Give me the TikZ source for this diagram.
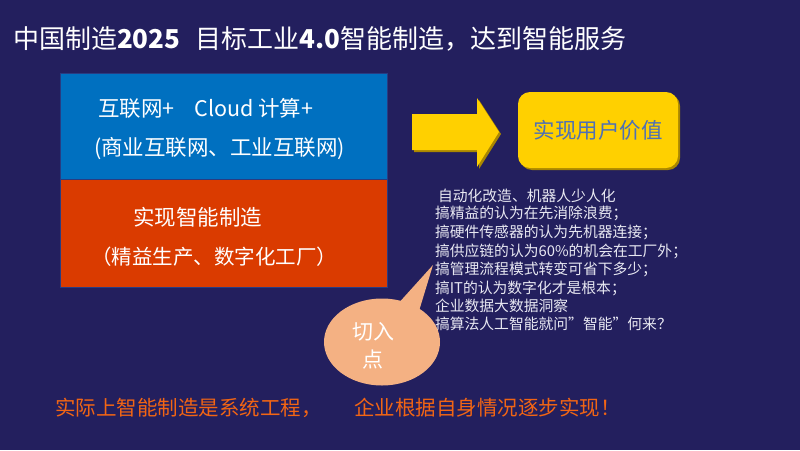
\documentclass[tikz,border=0pt]{standalone}
\usepackage{fontspec}
\setmainfont{Noto Sans CJK SC}
\usetikzlibrary{shapes.geometric}
\definecolor{bgc}{RGB}{35,31,94}
\definecolor{boxblue}{RGB}{0,112,192}
\definecolor{boxred}{RGB}{218,59,0}
\definecolor{boxedge}{RGB}{40,60,130}
\definecolor{yel}{RGB}{255,208,0}
\definecolor{yelshadow}{RGB}{170,135,0}
\definecolor{peach}{RGB}{244,177,131}
\definecolor{valtext}{RGB}{78,112,182}
\definecolor{listtext}{RGB}{232,232,242}
\definecolor{orangetext}{RGB}{242,101,20}
\tikzset{
  txt/.style={inner sep=0pt, outer sep=0pt, anchor=base west, text=white},
  listline/.style={txt, text=listtext, font=\fontsize{14.8}{16}\selectfont},
  panel/.style={draw=boxedge, line width=0.8pt},
}
\begin{document}
\begin{tikzpicture}[x=1pt,y=-1pt]
\useasboundingbox (0,0) rectangle (800,450);
\fill[bgc] (0,0) rectangle (800,450);
% title
\node[txt, font=\fontsize{26}{28}\selectfont] (title) at (13,48) {中国制造\textbf{2025}\hspace{15pt}目标工业\textbf{4.0}智能制造，达到智能服务};
% boxes
\path[panel, fill=boxblue] (60,73) rectangle (387,179);
\node[inner sep=0pt] (bluebox) at (223.5,126) {};
\path[panel, fill=boxred] (60,179) rectangle (387,287);
\node[inner sep=0pt] (redbox) at (223.5,233) {};
\node[txt, font=\fontsize{21.5}{24}\selectfont] (b1) at (98,116) {互联网+\hspace{20pt}Cloud 计算+};
\node[txt, font=\fontsize{21.5}{24}\selectfont] (b2) at (94,155) {(商业互联网、工业互联网)};
\node[txt, font=\fontsize{21.5}{24}\selectfont] (r1) at (133,225) {实现智能制造};
\node[txt, font=\fontsize{20.5}{24}\selectfont] (r2) at (91,264) {（精益生产、数字化工厂）};
% arrow
\fill[yelshadow] (414,116) -- (479,116) -- (479,100) -- (501,134) -- (479,169) -- (479,152) -- (414,152) -- cycle;
\fill[yel] (412,114) -- (477,114) -- (477,98) -- (499,132) -- (477,167) -- (477,150) -- (412,150) -- cycle;
\node[inner sep=0pt] (arrowtip) at (499,132) {};
% value box
\fill[yelshadow, rounded corners=12pt] (520,94) rectangle (680,170);
\node[fill=yel, rounded corners=12pt, minimum width=160pt, minimum height=76pt, inner sep=0pt,
      text=valtext, font=\fontsize{21.5}{24}\selectfont] (value) at (598,130) {实现用户价值};
% list
\node[listline] (l1) at (438,201.6) {自动化改造、机器人少人化};
\node[listline] (l2) at (435,218.6) {搞精益的认为在先消除浪费；};
\node[listline] (l3) at (435,237.6) {搞硬件传感器的认为先机器连接；};
\node[listline] (l4) at (435,256.6) {搞供应链的认为60\%的机会在工厂外；};
\node[listline] (l5) at (435,274.6) {搞管理流程模式转变可省下多少；};
\node[listline] (l6) at (435,293.6) {搞IT的认为数字化才是根本；};
\node[listline] (l7) at (435,311.6) {企业数据大数据洞察};
\node[listline] (l8) at (435,329.6) {搞算法人工智能就问”智能”何来？};
% callout
\coordinate (ctip) at (433,265);
\fill[peach] (396,306) -- (ctip) -- (419,311) -- cycle;
\node[ellipse, fill=peach, minimum width=116pt, minimum height=87pt, inner sep=0pt] (callout) at (382,342) {};
\node[txt, anchor=center, font=\fontsize{21}{24}\selectfont] (c1) at (373,332) {切入};
\node[txt, anchor=center, font=\fontsize{21}{24}\selectfont] (c2) at (373,360) {点};
% bottom
\node[txt, text=orangetext, font=\fontsize{20.5}{24}\selectfont] (bot1) at (55,415) {实际上智能制造是系统工程，};
\node[txt, text=orangetext, font=\fontsize{20.5}{24}\selectfont] (bot2) at (354,415) {企业根据自身情况逐步实现！};
\end{tikzpicture}
\end{document}
